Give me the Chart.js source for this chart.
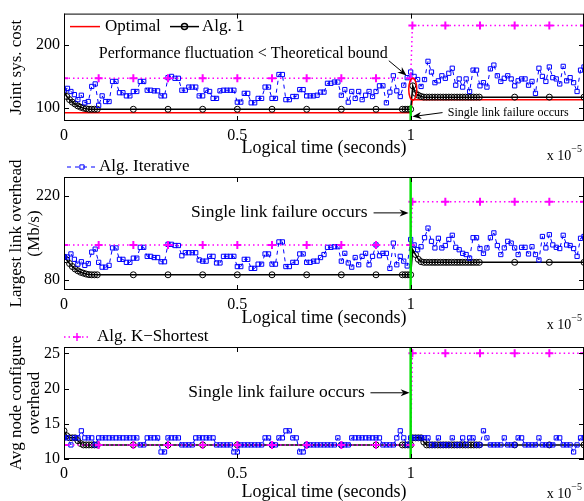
<!DOCTYPE html>
<html>
<head>
<meta charset="utf-8">
<script src="https://cdn.jsdelivr.net/npm/chart.js@4.4.1/dist/chart.umd.min.js"></script>
<style>
  html, body { margin: 0; padding: 0; background: #fff; }
  body { width: 584px; height: 501px; position: relative; overflow: hidden; }
  canvas { position: absolute; left: 0; }
</style>
</head>
<body>
<canvas id="costChart" width="584" height="165" style="top:0px"></canvas>
<canvas id="linkChart" width="584" height="185" style="top:150px"></canvas>
<canvas id="nodeChart" width="584" height="181" style="top:320px"></canvas>
<script>
// time is in units of 1e-5 s (hence the "x 10^-5" label)
var timeTicks = [0, 0.5, 1];
var failureTime = 1;

// Alg. Iterative is sampled every 0.01
var iterTime = [];
for (var i = 0; i <= 150; i++) iterTime.push(+(i * 0.01).toFixed(2));

var alg1Time = [0, 0.008, 0.016, 0.024, 0.032, 0.04, 0.048, 0.056, 0.064, 0.072, 0.08, 0.088, 0.096,
  0.2, 0.3, 0.4, 0.5, 0.6, 0.7, 0.8, 0.9,
  0.976, 0.984, 0.992, 1,
  1.006, 1.014, 1.022, 1.03, 1.038, 1.046, 1.054, 1.062, 1.07, 1.078, 1.086, 1.094, 1.102,
  1.11, 1.118, 1.126, 1.134, 1.142, 1.15, 1.158, 1.166, 1.174, 1.182, 1.19, 1.198,
  1.3, 1.4, 1.5];
var kShortTime = [0, 0.1, 0.2, 0.3, 0.4, 0.5, 0.6, 0.7, 0.8, 0.9, 1, 1.005, 1.1, 1.2, 1.3, 1.4, 1.5];
var optimalTime = [0, 1, 1.005, 1.5];

// --- Joint sys. cost
var costTicks = [100, 200];
var costOptimal = [92, 92, 113, 113];
var costFailure = [79, 104];
var costKShort = [147, 147, 147, 147, 147, 147, 147, 147, 147, 147, 147, 231, 231, 231, 231, 231, 231];
var costAlg1 = [125, 118, 113, 109, 106, 103, 101, 99.5, 98.5, 97.7, 97.7, 97.7, 97.7,
  97.7, 97.7, 97.7, 97.7, 97.7, 97.7, 97.7, 97.7,
  97.7, 97.7, 97.7, 97.7,
  135, 123, 120, 118,
  117, 117, 117, 117, 117, 117, 117, 117, 117, 117, 117, 117, 117, 117, 117, 117, 117, 117, 117, 117, 117,
  117, 117, 117];
var costIter = [128, 131, 126, 121, 113, 120, 108, 110, 134, 138,
  104, 119, 110, 110, 142, 142, 124, 124, 119, 119,
  126, 126, 142, 142, 128, 128, 127, 127, 119, 119,
  148, 150, 147, 147, 128, 128, 133, 133, 133, 119,
  119, 128, 126, 115, 115, 127, 128, 128, 128, 128,
  109, 109, 123, 123, 108, 108, 115, 115, 133, 133,
  115, 115, 153, 153, 113, 113, 118, 118, 129, 129,
  119, 119, 119, 120, 125, 125, 139, 139, 141, 141,
  120, 129, 109, 126, 115, 126, 113, 120, 126, 118,
  126, 135, 135, 108, 125, 151, 127, 118, 136, 148,
  157, 150, 145, 134, 145, 174, 157, 140, 143, 151,
  147, 155, 163, 136, 146, 133, 146, 126, 160, 160,
  135, 140, 133, 162, 168, 151, 142, 147, 151, 146,
  135, 143, 146, 146, 136, 142, 123, 163, 150, 142,
  165, 148, 146, 138, 166, 143, 148, 140, 126, 160,
  165];

// --- Largest link overhead (Mb/s)
var linkTicks = [80, 220];
var linkFailure = [63, 251];
var linkKShort = [138, 138, 138, 138, 138, 138, 138, 138, 138, 138, 138, 210, 210, 210, 210, 210, 210];
var linkAlg1 = [118, 113, 107, 102, 98, 95, 92.5, 91, 89.5, 88.6, 88.3, 88.3, 88.3,
  88.3, 88.3, 88.3, 88.3, 88.3, 88.3, 88.3, 88.3,
  88.3, 88.3, 88.3, 88.3,
  130, 122, 114, 110,
  109, 109, 109, 109, 109, 109, 109, 109, 109, 109, 109, 109, 109, 109, 109, 109, 109, 109, 109, 109, 109,
  109, 109, 109];
var linkIter = [118, 118, 123, 114, 106, 110, 104, 107, 126, 131,
  109, 101, 101, 104, 133, 133, 114, 114, 109, 109,
  116, 116, 134, 134, 119, 119, 117, 117, 110, 110,
  139, 139, 137, 137, 120, 125, 125, 125, 125, 113,
  111, 111, 119, 119, 108, 108, 119, 119, 119, 119,
  102, 102, 114, 114, 99, 99, 106, 106, 123, 123,
  106, 106, 143, 143, 102, 102, 109, 109, 123, 123,
  109, 109, 111, 111, 117, 122, 134, 134, 135, 135,
  111, 124, 108, 101, 117, 105, 119, 124, 105, 119,
  138, 120, 124, 124, 99, 141, 105, 119, 111, 103,
  147, 138, 130, 135, 150, 166, 144, 133, 149, 133,
  137, 147, 154, 134, 130, 124, 122, 116, 150, 150,
  132, 124, 133, 150, 158, 137, 122, 133, 144, 141,
  133, 122, 134, 134, 123, 135, 122, 113, 152, 133,
  155, 138, 134, 132, 154, 138, 137, 132, 119, 149,
  152];

// --- Avg node configure overhead
var nodeTicks = [10, 15, 20, 25];
var nodeFailure = [10, 26];
var nodeKShort = [12, 12, 12, 12, 12, 12, 12, 12, 12, 12, 12, 25, 25, 25, 25, 25, 25];
var nodeAlg1 = [14, 13.3, 13, 13, 13, 12.6, 12.2, 12, 12, 12, 12, 12, 12,
  12, 12, 12, 12, 12, 12, 12, 12,
  12, 12, 12, 12,
  13, 13, 13, 13,
  12.4, 12, 12, 12, 12, 12, 12, 12, 12, 12, 12, 12, 12, 12, 12, 12, 12, 12, 12, 12, 12,
  12, 12, 12];
var nodeIter = [13, 13, 12, 13, 13, 14, 13, 13, 13, 12,
  13, 13, 13, 13, 13, 13, 13, 13, 13, 13,
  13, 13, 12, 12, 13, 13, 13, 13, 11, 11,
  13, 13, 13, 13, 12, 12, 12, 12, 13, 13,
  13, 13, 13, 13, 12, 12, 12, 12, 12, 11,
  11, 12, 12, 12, 12, 12, 12, 12, 13, 13,
  12, 12, 13, 13, 14, 14, 13, 13, 11, 11,
  12, 12, 12, 12, 12, 12, 12, 12, 12, 13,
  12, 12, 12, 13, 13, 13, 13, 13, 13, 13,
  13, 13, 12, 12, 12, 12, 13, 14, 13, 12,
  13, 13, 13, 13, 13, 13, 12, 12, 13, 12,
  12, 12, 13, 12, 12, 13, 12, 13, 13, 12,
  12, 14, 13, 12, 12, 12, 12, 13, 12, 12,
  12, 13, 13, 12, 12, 12, 12, 13, 12, 12,
  12, 12, 13, 13, 12, 12, 12, 11, 12, 13,
  13];

var serif = "'Liberation Serif', 'Times New Roman', serif";

function pts(xs, ys) {
  return xs.map(function (x, i) { return { x: x, y: ys[i] }; });
}

function drawArrow(ctx, x0, y0, x1, y1) {
  var ang = Math.atan2(y1 - y0, x1 - x0), len = 9, w = 3.5;
  ctx.beginPath();
  ctx.moveTo(x0, y0);
  ctx.lineTo(x1 - Math.cos(ang) * len * 0.7, y1 - Math.sin(ang) * len * 0.7);
  ctx.stroke();
  ctx.beginPath();
  ctx.moveTo(x1, y1);
  ctx.lineTo(x1 - Math.cos(ang) * len - Math.sin(ang) * w, y1 - Math.sin(ang) * len + Math.cos(ang) * w);
  ctx.lineTo(x1 - Math.cos(ang) * len * 0.7, y1 - Math.sin(ang) * len * 0.7);
  ctx.lineTo(x1 - Math.cos(ang) * len + Math.sin(ang) * w, y1 - Math.sin(ang) * len - Math.cos(ang) * w);
  ctx.closePath();
  ctx.fill();
}

// matlab-like box, inward ticks, legend pieces and annotations
var extras = {
  id: 'extras',
  afterDatasetsDraw: function (chart, args, o) {
    var ctx = chart.ctx, a = chart.chartArea, xs = chart.scales.x, ys = chart.scales.y;
    ctx.save();
    ctx.strokeStyle = '#000';
    ctx.fillStyle = '#000';
    ctx.lineWidth = 1;
    ctx.strokeRect(a.left + 0.5, a.top + 0.5, a.right - a.left - 1, a.bottom - a.top - 1);
    ctx.beginPath();
    xs.ticks.forEach(function (t) {
      var px = Math.round(xs.getPixelForValue(t.value)) + 0.5;
      ctx.moveTo(px, a.bottom); ctx.lineTo(px, a.bottom - 5);
      ctx.moveTo(px, a.top); ctx.lineTo(px, a.top + 5);
    });
    ys.ticks.forEach(function (t) {
      var py = Math.round(ys.getPixelForValue(t.value)) + 0.5;
      ctx.moveTo(a.left, py); ctx.lineTo(a.left + 5, py);
      ctx.moveTo(a.right, py); ctx.lineTo(a.right - 5, py);
    });
    ctx.stroke();

    // exponent of the time axis
    ctx.textBaseline = 'middle';
    ctx.textAlign = 'right';
    ctx.font = '10px ' + serif;
    var supW = ctx.measureText('\u22125').width;
    ctx.fillText('\u22125', a.right - 2, a.bottom + 28);
    ctx.font = '14px ' + serif;
    ctx.fillText('x 10', a.right - 2 - supW, a.bottom + 35);

    // legend entries, styled from their datasets
    (o.legend || []).forEach(function (e) {
      var ds = chart.data.datasets.find(function (d) { return d.label === e.label; });
      var y = a.top + e.dy;
      ctx.save();
      ctx.strokeStyle = ds.borderColor;
      ctx.lineWidth = ds.borderWidth;
      ctx.setLineDash(ds.borderDash || []);
      ctx.beginPath();
      ctx.moveTo(a.left + e.x0, y); ctx.lineTo(a.left + e.x1, y);
      ctx.stroke();
      ctx.setLineDash([]);
      if (ds.pointRadius > 0) {
        ctx.strokeStyle = ds.pointBorderColor;
        ctx.fillStyle = ds.pointBackgroundColor;
        Chart.helpers.drawPoint(ctx, { pointStyle: ds.pointStyle, radius: ds.pointRadius, rotation: 0, borderWidth: ds.pointBorderWidth },
          a.left + (e.x0 + e.x1) / 2, y);
      }
      ctx.restore();
      ctx.font = '17px ' + serif;
      ctx.textAlign = 'left';
      ctx.fillText(ds.label, a.left + e.tx, y);
    });

    (o.notes || []).forEach(function (n) {
      ctx.font = n.size + 'px ' + serif;
      ctx.textAlign = n.align || 'center';
      ctx.fillText(n.text, xs.getPixelForValue(n.at[0]), ys.getPixelForValue(n.at[1]));
    });
    (o.arrows || []).forEach(function (r) {
      drawArrow(ctx, xs.getPixelForValue(r.from[0]), ys.getPixelForValue(r.from[1]),
        xs.getPixelForValue(r.to[0]), ys.getPixelForValue(r.to[1]));
    });
    (o.ellipses || []).forEach(function (el) {
      ctx.strokeStyle = '#ff0000';
      ctx.lineWidth = 1.5;
      ctx.beginPath();
      ctx.ellipse(xs.getPixelForValue(el.at[0]), ys.getPixelForValue(el.at[1]), el.rx, el.ry, 0, 0, Math.PI * 2);
      ctx.stroke();
    });
    ctx.restore();
  }
};

function seriesSets(p) {
  var sets = [
    { label: 'failure', data: pts([failureTime, failureTime], p.failure),
      borderColor: '#00e000', borderWidth: 2.5, pointRadius: 0 },
    { label: 'Alg. K\u2212Shortest', data: pts(kShortTime, p.kShort),
      borderColor: '#ff00ff', borderWidth: 1.5, borderDash: [1.5, 3],
      pointStyle: 'cross', pointRadius: 4, pointBorderWidth: 2,
      pointBorderColor: '#ff00ff', pointBackgroundColor: '#ff00ff' },
    { label: 'Alg. Iterative', data: pts(iterTime, p.iter),
      borderColor: '#0000ff', borderWidth: 1, borderDash: [4, 4],
      pointStyle: 'rect', pointRadius: 3, pointBorderWidth: 1,
      pointBorderColor: '#0000ff', pointBackgroundColor: 'rgba(255,255,255,0)' },
    { label: 'Alg. 1', data: pts(alg1Time, p.alg1),
      borderColor: '#000000', borderWidth: 1.5,
      pointStyle: 'circle', pointRadius: 3, pointBorderWidth: 1,
      pointBorderColor: '#000000', pointBackgroundColor: 'rgba(255,255,255,0)' }
  ];
  if (p.optimal) {
    sets.push({ label: 'Optimal', data: pts(optimalTime, p.optimal),
      borderColor: '#ff0000', borderWidth: 1.5, pointRadius: 0 });
  }
  return sets;
}

function makeChart(id, p) {
  return new Chart(document.getElementById(id), {
    type: 'line',
    data: { datasets: seriesSets(p) },
    options: {
      responsive: false,
      animation: false,
      devicePixelRatio: 1,
      layout: { autoPadding: false, padding: { top: p.top, right: 0, bottom: p.bottom, left: 0 } },
      elements: { line: { tension: 0, fill: false } },
      plugins: {
        legend: { display: false },
        tooltip: { enabled: false },
        extras: { legend: p.legend, notes: p.notes, arrows: p.arrows, ellipses: p.ellipses }
      },
      scales: {
        x: {
          type: 'linear', min: 0, max: 1.5,
          grid: { display: false, drawTicks: false },
          border: { display: false },
          afterBuildTicks: function (s) { s.ticks = timeTicks.map(function (v) { return { value: v }; }); },
          afterFit: function (s) { s.height = p.xAxisH; },
          ticks: { font: { family: serif, size: 16 }, color: '#000', padding: 5, autoSkip: false, maxRotation: 0,
            callback: function (v) { return String(v); } },
          title: { display: true, text: 'Logical time (seconds)', color: '#000', padding: 0,
            font: { family: serif, size: 18, lineHeight: 1 } }
        },
        y: {
          type: 'linear', min: p.yMin, max: p.yMax,
          grid: { display: false, drawTicks: false },
          border: { display: false },
          afterBuildTicks: function (s) { s.ticks = p.ticks.map(function (v) { return { value: v }; }); },
          afterFit: function (s) { s.width = 64; },
          ticks: { font: { family: serif, size: 16 }, color: '#000', padding: 4, autoSkip: false },
          title: { display: true, text: p.yTitle, color: '#000', padding: { top: 8, bottom: 0 },
            font: { family: serif, size: 17, lineHeight: 1.06 } }
        }
      }
    },
    plugins: [extras]
  });
}

makeChart('costChart', {
  top: 8, bottom: 8, xAxisH: 36, yMin: 79, yMax: 250, ticks: costTicks,
  yTitle: 'Joint sys. cost',
  iter: costIter, alg1: costAlg1, kShort: costKShort, optimal: costOptimal, failure: costFailure,
  legend: [
    { label: 'Optimal', x0: 6, x1: 36, dy: 13, tx: 41 },
    { label: 'Alg. 1', x0: 106, x1: 135, dy: 13, tx: 138 }
  ],
  notes: [
    { text: 'Performance fluctuation < Theoretical bound', at: [0.517, 186], size: 16 },
    { text: 'Single link failure occurs', at: [1.107, 92], size: 12, align: 'left' }
  ],
  arrows: [
    { from: [0.937, 175], to: [0.988, 151.5] },
    { from: [1.092, 92.4], to: [1.005, 86] }
  ],
  ellipses: [{ at: [1.006, 129.5], rx: 4, ry: 11 }]
});

makeChart('linkChart', {
  top: 27, bottom: 8, xAxisH: 37, yMin: 63, yMax: 251, ticks: linkTicks,
  yTitle: ['Largest link overhead', '(Mb/s)'],
  iter: linkIter, alg1: linkAlg1, kShort: linkKShort, failure: linkFailure,
  legend: [{ label: 'Alg. Iterative', x0: 3, x1: 33, dy: -10, tx: 35 }],
  notes: [{ text: 'Single link failure occurs', at: [0.621, 191.3], size: 17.5 }],
  arrows: [{ from: [0.893, 191.3], to: [0.994, 191.3] }]
});

makeChart('nodeChart', {
  top: 27, bottom: 0, xAxisH: 42, yMin: 10, yMax: 25.9, ticks: nodeTicks,
  yTitle: ['Avg node configure', 'overhead'],
  iter: nodeIter, alg1: nodeAlg1, kShort: nodeKShort, failure: nodeFailure,
  legend: [{ label: 'Alg. K\u2212Shortest', x0: 0, x1: 26, dy: -10, tx: 33 }],
  notes: [{ text: 'Single link failure occurs', at: [0.613, 19.4], size: 17.5 }],
  arrows: [{ from: [0.884, 19.4], to: [0.997, 19.4] }]
});
</script>
</body>
</html>
